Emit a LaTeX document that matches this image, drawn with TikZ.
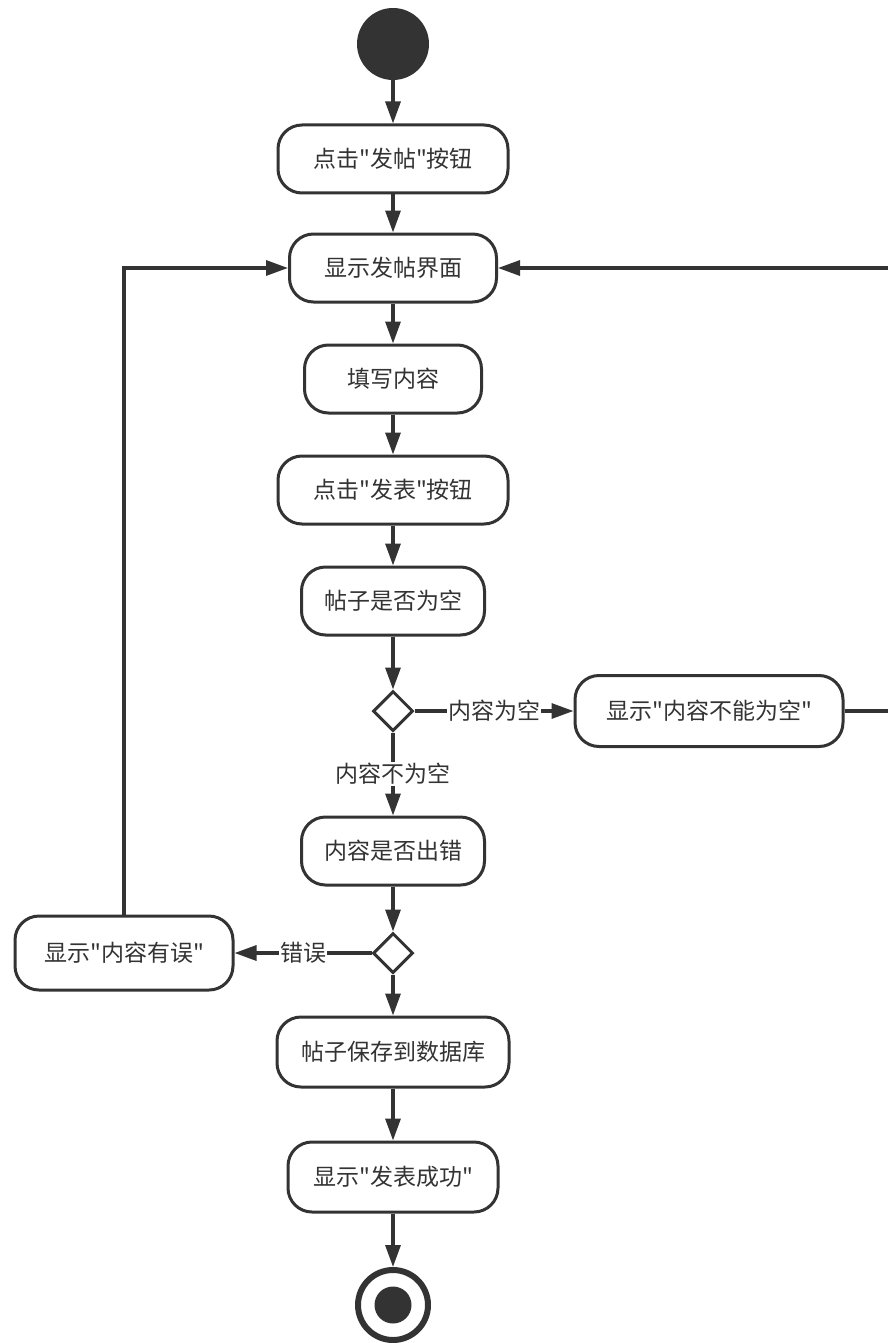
\documentclass[tikz,border=0pt]{standalone}
\usepackage{fontspec}
\setmainfont{Noto Sans CJK SC}[Ligatures=TeXOff]
\usetikzlibrary{arrows.meta,shapes.geometric}
\definecolor{ink}{HTML}{333333}
\begin{document}
\begin{tikzpicture}[x=1pt,y=-1pt,
    act/.style={draw=ink,line width=3pt,fill=white,rounded corners=24pt,
      minimum height=68pt,text=ink,font=\fontsize{23}{27}\selectfont},
    choice/.style={draw=ink,line width=3pt,fill=white,diamond,
      minimum width=40pt,minimum height=40pt,inner sep=0pt},
    flow/.style={draw=ink,line width=3.2pt,-{Triangle[length=22pt,width=15pt]}},
    cond/.style={fill=white,text=ink,inner sep=1pt,font=\fontsize{23}{27}\selectfont}]
    \useasboundingbox (0,0) rectangle (888,1343);
    \clip (0,0) rectangle (888,1343);

    \node[circle,fill=ink,minimum size=72pt,inner sep=0pt] (start) at (393,44) {};
    \node[act,minimum width=230pt] (click1) at (393,159) {点击"发帖"按钮};
    \node[act,minimum width=207pt] (show) at (393,268) {显示发帖界面};
    \node[act,minimum width=177pt] (fill) at (393,379) {填写内容};
    \node[act,minimum width=230pt] (click2) at (393,490) {点击"发表"按钮};
    \node[act,minimum width=183pt] (empty) at (393,601) {帖子是否为空};
    \node[choice] (d1) at (393,711) {};
    \node[act,minimum width=268pt,minimum height=71pt] (notempty) at (709,711) {显示"内容不能为空"};
    \node[act,minimum width=183pt] (err) at (393,851) {内容是否出错};
    \node[choice] (d2) at (393,953) {};
    \node[act,minimum width=218pt,minimum height=74pt] (wrong) at (124,953) {显示"内容有误"};
    \node[act,minimum width=232pt,minimum height=70pt] (save) at (393,1052) {帖子保存到数据库};
    \node[act,minimum width=210pt,minimum height=70pt] (ok) at (393,1177) {显示"发表成功"};
    \node[circle,draw=ink,line width=6pt,fill=white,minimum size=70pt,inner sep=0pt] (stop) at (393,1305) {};
    \node[circle,fill=ink,minimum size=37pt,inner sep=0pt] (stopdot) at (stop) {};

    \draw[flow] (start) -- (click1);
    \draw[flow] (click1) -- (show);
    \draw[flow] (show) -- (fill);
    \draw[flow] (fill) -- (click2);
    \draw[flow] (click2) -- (empty);
    \draw[flow] (empty) -- (d1);
    \draw[flow] (d1) -- node[cond]{内容为空} (notempty);
    \draw[flow] (d1) -- node[cond]{内容不为空} (err);
    \draw[flow] (err) -- (d2);
    \draw[flow] (d2) -- node[cond]{错误} (wrong);
    \draw[flow] (d2) -- (save);
    \draw[flow] (save) -- (ok);
    \draw[flow] (ok) -- (stop);

    \draw[flow] (wrong.north) -- (wrong.north |- show) -- (show);
    \draw[flow] (notempty.east) -- ++(60,0) |- (show);
\end{tikzpicture}
\end{document}
